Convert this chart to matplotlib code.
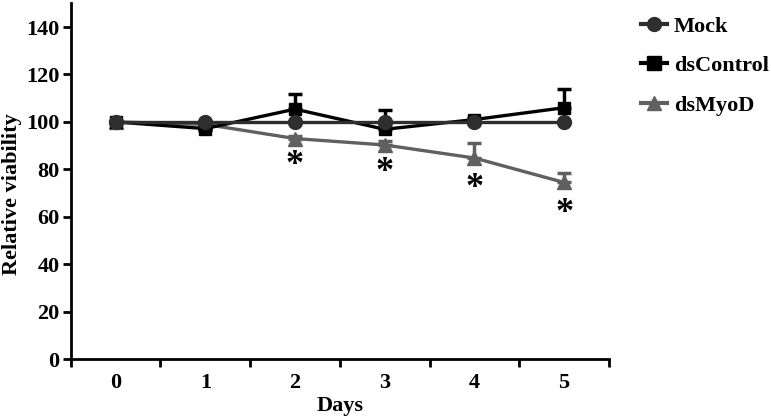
import numpy as np
import matplotlib
matplotlib.use("Agg")
import matplotlib.pyplot as plt
from matplotlib.lines import Line2D

plt.rcParams['font.family'] = ['Liberation Serif', 'DejaVu Serif']
plt.rcParams['font.weight'] = 'bold'

# data
days = [0, 1, 2, 3, 4, 5]
mock = [100, 100, 100, 100, 100, 100]
mock_err = [0, 0, 0, 0, 0, 0]
ds_control = [100, 97.2, 105.4, 96.9, 101.0, 106.0]
ds_control_err = [0, 0.5, 6.3, 8.1, 0.8, 7.8]
ds_myod = [100, 99, 93.0, 90.3, 84.8, 74.5]
ds_myod_err = [0, 0, 1.0, 1.5, 6.5, 3.8]
star_days = [2, 3, 4, 5]
star_y = [81.5, 78.5, 72.0, 61.5]

names = ['Mock', 'dsControl', 'dsMyoD']
colors = ['#2e2e2e', '#000000', '#606060']
markers = ['o', 's', '^']

fig = plt.figure(figsize=(7.71, 4.19), dpi=100)
ax = fig.add_axes([0.0918, 0.1425, 0.698, 0.8497])

lw = 2.4
ax.errorbar(days, ds_myod, yerr=[np.zeros(6), ds_myod_err], color=colors[2],
            marker='^', ms=10, lw=lw, capsize=5, capthick=2.5, elinewidth=2.5, zorder=2)
ax.errorbar(days, ds_control, yerr=[np.zeros(6), ds_control_err], color=colors[1],
            marker='s', ms=9, lw=lw, capsize=5, capthick=2.5, elinewidth=2.5, zorder=3)
ax.errorbar(days, mock, yerr=[np.zeros(6), mock_err], color=colors[0],
            marker='o', ms=10, lw=lw, capsize=5, capthick=2.5, elinewidth=2.5, zorder=4)

for d, y in zip(star_days, star_y):
    ax.text(d, y, '*', ha='center', va='center', fontsize=26, fontweight='bold')

ax.set_xlim(-0.5, 5.5)
ax.set_ylim(0, 150)
ax.set_xticks(np.arange(-0.5, 6, 1))
ax.set_xticklabels([])
ax.set_xticks(days, minor=True)
ax.set_xticklabels([str(d) for d in days], minor=True)
ax.tick_params(axis='x', which='minor', length=0, pad=10, labelsize=16)
ax.tick_params(axis='x', which='major', direction='out', length=6, width=2)
ax.set_yticks(range(0, 141, 20))
ax.tick_params(axis='y', direction='out', length=6, width=2, labelsize=16, pad=2)

for s in ['top', 'right']:
    ax.spines[s].set_visible(False)
for s in ['left', 'bottom']:
    ax.spines[s].set_linewidth(2)

ax.set_xlabel('Days', fontsize=16, fontweight='bold', labelpad=2)
ax.set_ylabel('Relative viability', fontsize=16, fontweight='bold')
ax.yaxis.set_label_coords(-0.091, 0.464)

handles = [Line2D([], [], color=c, marker=m, ms=10, lw=3) for c, m in zip(colors, markers)]
ax.legend(handles, names, loc='upper left', bbox_to_anchor=(1.022, 1.02), frameon=False,
          fontsize=16, handlelength=1.2, labelspacing=0.85, handletextpad=0.3)

fig.savefig('out.png', dpi=100)
